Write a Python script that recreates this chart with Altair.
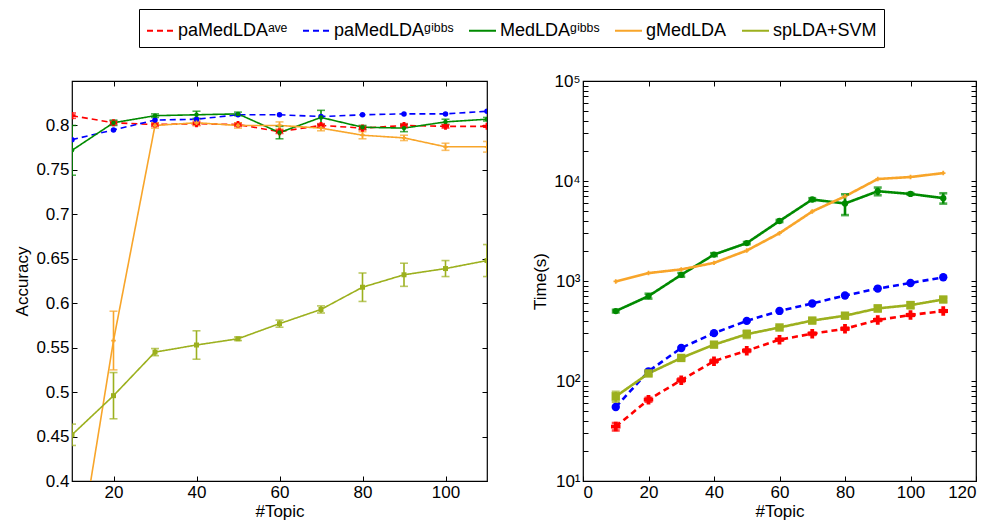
import altair as alt
import pandas as pd

topics = [10, 20, 30, 40, 50, 60, 70, 80, 90, 100, 110]
series = ["paMedLDAᵃᵛᵉ", "paMedLDAᵍⁱᵇᵇˢ", "MedLDAᵍⁱᵇᵇˢ", "gMedLDA", "spLDA+SVM"]
colors = ["#ff0000", "#0000ff", "#008a00", "#f8a52a", "#9cb01e"]
dashes = [[6, 4], [6, 4], [1, 0], [1, 0], [1, 0]]
shapes = ["cross", "circle", "circle", "cross", "square"]

# tick values
acc_ticks = [0.4, 0.45, 0.5, 0.55, 0.6, 0.65, 0.7, 0.75, 0.8]
acc_xticks = [20, 40, 60, 80, 100]
time_xticks = [0, 20, 40, 60, 80, 100, 120]
time_ticks = [m * 10 ** k for k in range(1, 5) for m in range(1, 10)] + [100000]

# Accuracy (left)
acc_pa_ave = [0.811, 0.803, 0.801, 0.802, 0.801, 0.793, 0.800, 0.797, 0.800, 0.799, 0.799]
acc_pa_ave_err = [0.003, 0.002, 0.002, 0.002, 0.002, 0.002, 0.002, 0.002, 0.002, 0.002, 0.001]
acc_pa_gibbs = [0.784, 0.795, 0.806, 0.807, 0.812, 0.812, 0.810, 0.812, 0.813, 0.813, 0.816]
acc_pa_gibbs_err = [0, 0, 0, 0, 0, 0, 0, 0, 0, 0, 0]
acc_med_gibbs = [0.772, 0.803, 0.811, 0.812, 0.813, 0.792, 0.809, 0.798, 0.797, 0.804, 0.807]
acc_med_gibbs_err = [0.028, 0.003, 0.002, 0.004, 0.002, 0.007, 0.008, 0.002, 0.004, 0.003, 0.002]
acc_gmed = [0.27, 0.558, 0.800, 0.803, 0.800, 0.800, 0.797, 0.789, 0.786, 0.776, 0.776]
acc_gmed_err = [0.0, 0.033, 0.003, 0.003, 0.003, 0.004, 0.003, 0.004, 0.003, 0.004, 0.006]
acc_splda = [0.452, 0.496, 0.545, 0.553, 0.560, 0.577, 0.593, 0.618, 0.632, 0.639, 0.648]
acc_splda_err = [0.012, 0.026, 0.004, 0.016, 0.002, 0.004, 0.004, 0.016, 0.013, 0.009, 0.018]

# Time (right)
time_pa_ave = [35, 65, 102, 158, 201, 259, 297, 333, 408, 457, 501]
time_pa_ave_err = [3, 3, 4, 5, 6, 6, 8, 8, 10, 10, 10]
time_pa_gibbs = [55, 125, 214, 301, 399, 502, 596, 716, 840, 955, 1089]
time_pa_gibbs_err = [0, 0, 0, 0, 0, 0, 0, 0, 0, 0, 0]
time_med_gibbs = [500, 706, 1153, 1838, 2393, 3980, 6530, 5960, 7900, 7430, 6740]
time_med_gibbs_err = [15, 40, 50, 60, 60, 100, 200, 1400, 700, 150, 800]
time_gmed = [990, 1200, 1306, 1518, 2015, 3006, 4955, 7030, 10470, 10960, 12000]
time_gmed_err = [0, 0, 0, 0, 0, 0, 0, 0, 0, 0, 0]
time_splda = [70, 119, 170, 231, 294, 343, 402, 450, 532, 574, 653]
time_splda_err = [8, 5, 6, 10, 25, 10, 20, 25, 35, 40, 30]


def build(vals, errs):
    rows = []
    for s, v, e in zip(series, vals, errs):
        for t, vv, ee in zip(topics, v, e):
            rows.append({"series": s, "topic": t, "value": vv, "err": ee,
                         "lo": vv - ee, "hi": vv + ee})
    return pd.DataFrame(rows)


acc_df = build([acc_pa_ave, acc_pa_gibbs, acc_med_gibbs, acc_gmed, acc_splda],
               [acc_pa_ave_err, acc_pa_gibbs_err, acc_med_gibbs_err, acc_gmed_err, acc_splda_err])
time_df = build([time_pa_ave, time_pa_gibbs, time_med_gibbs, time_gmed, time_splda],
                [time_pa_ave_err, time_pa_gibbs_err, time_med_gibbs_err, time_gmed_err, time_splda_err])

color_scale = alt.Scale(domain=series, range=colors)
dash_scale = alt.Scale(domain=series, range=dashes)

legend = alt.Legend(title=None, orient="none", legendX=67, legendY=-72, direction="horizontal",
                    columns=5, symbolType="stroke", symbolSize=729, symbolStrokeWidth=2,
                    labelFontSize=18, labelFont="Liberation Sans", labelColor="black",
                    strokeColor="black", padding=7, columnPadding=11, labelOffset=3,
                    fillColor="white")

T = 5  # inward tick length


def panel(df, yscale, ytitle, yvals, ylabelexpr, xscale, xvals, lw, sizes, w, h, left):
    base = alt.Chart(df)
    xaxis = alt.Axis(orient="bottom", values=xvals, offset=-T, tickSize=T, domain=False,
                     labelPadding=3, titlePadding=3)
    yaxis = alt.Axis(orient="left", values=yvals, offset=-T, tickSize=T, domain=False,
                     labelPadding=3, labelExpr=ylabelexpr)
    line = base.mark_line(clip=True, strokeWidth=lw).encode(
        x=alt.X("topic:Q", scale=xscale, axis=xaxis, title="#Topic"),
        y=alt.Y("value:Q", scale=yscale, axis=yaxis, title=ytitle),
        color=alt.Color("series:N", scale=color_scale, legend=legend if left else None, sort=series),
        strokeDash=alt.StrokeDash("series:N", scale=dash_scale, legend=legend if left else None, sort=series),
        detail="series:N",
    )
    xn = alt.X("topic:Q", axis=None)
    eb = base.transform_filter("datum.err > 0").mark_errorbar(ticks={"size": 8}, clip=True, thickness=lw).encode(
        x=xn,
        y=alt.Y("lo:Q", axis=None),
        y2="hi:Q",
        color=alt.Color("series:N", scale=color_scale, legend=None),
    )
    layers = [line, eb]
    for s, shp, sz in zip(series, shapes, sizes):
        layers.append(
            base.transform_filter(alt.datum.series == s)
            .mark_point(clip=True, filled=True, opacity=1, shape=shp, size=sz)
            .encode(x=xn, y=alt.Y("value:Q", axis=None),
                    color=alt.Color("series:N", scale=color_scale, legend=None))
        )
    # box ticks on top and right sides
    frame = base.mark_point(opacity=0).encode(
        x=alt.X("topic:Q", axis=alt.Axis(orient="top", values=xvals, offset=-T, tickSize=T,
                                         domain=False, labels=False, title=None)),
        y=alt.Y("value:Q", axis=alt.Axis(orient="right", values=yvals, offset=-T, tickSize=T,
                                         domain=False, labels=False, title=None)),
    )
    layers.append(frame)
    return alt.layer(*layers).resolve_axis(x="independent", y="independent").properties(width=w, height=h)


left = panel(
    acc_df,
    alt.Scale(domain=[0.4, 0.85], nice=False, zero=False), "Accuracy",
    acc_ticks, "format(datum.value, '~g')",
    alt.Scale(domain=[10, 110], nice=False), acc_xticks,
    1.6, [50, 30, 20, 20, 25], 415, 400, True,
)

right = panel(
    time_df,
    alt.Scale(type="log", domain=[10, 100000], nice=False), "Time(s)",
    time_ticks,
    "abs(log(datum.value)/LN10 - round(log(datum.value)/LN10)) < 0.001 ? '10' + ['⁰','¹','²','³','⁴','⁵'][round(log(datum.value)/LN10)] : ''",
    alt.Scale(domain=[0, 120], nice=False), time_xticks,
    2.6, [90, 70, 40, 20, 70], 393, 400, False,
)

chart = alt.hconcat(left, right, spacing=40).resolve_scale(
    color="shared", strokeDash="shared"
).properties(
    padding={"left": 5, "top": 0, "right": 0, "bottom": 0}
).configure(
    font="Liberation Sans"
).configure_legend(
    labelFontSize=18, labelFont="Liberation Sans"
).configure_axis(
    grid=False, domainColor="black", tickColor="black", labelColor="black",
    titleColor="black", labelFontSize=17, titleFontSize=17, titleFontWeight="normal",
    labelFont="Liberation Sans", titleFont="Liberation Sans",
).configure_view(stroke="black", strokeWidth=1.2)

chart.save("out.html", embed_options={"renderer": "svg", "actions": False})
